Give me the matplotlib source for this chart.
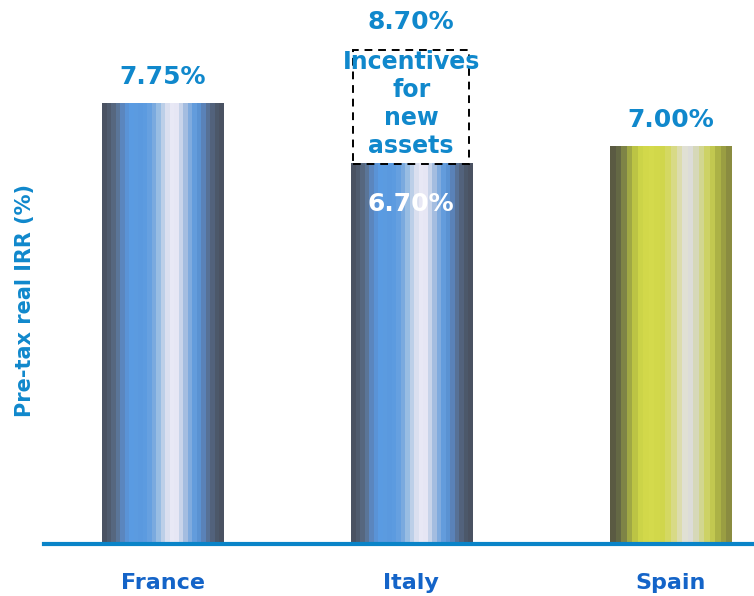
import numpy as np
import matplotlib.pyplot as plt
from matplotlib.colors import to_rgb
from matplotlib.patches import Rectangle

categories = ["France", "Italy", "Spain"]
irr_values = [7.75, 6.70, 7.00]
value_labels = ["7.75%", "6.70%", "7.00%"]
incentive_top = 8.70
incentive_label = "8.70%"
incentive_text = "Incentives\nfor\nnew\nassets"

# Cylinder-style vertical stripes for each bar
blue_stripes = ["#4a5262", "#4f5b6e", "#56677f", "#5a7598", "#5b86be", "#5a93d6",
                "#5a9be2", "#5b9be0", "#5a99df", "#5c9be0", "#66a0e0", "#7aaadf",
                "#98bde3", "#bccfe8", "#dadfef", "#e8e8f5", "#e6e6f4", "#c8d4ea",
                "#a4bde0", "#80abde", "#639cdc", "#5a92d2", "#5a82b8", "#577196",
                "#52627c", "#4c586a", "#4a5262"]
yellow_stripes = ["#5a5a42", "#646844", "#7e8446", "#a0a844", "#bcc444", "#ccd448",
                  "#d2d84a", "#d4da4c", "#d2d84a", "#d0d64c", "#d4d862", "#d8da86",
                  "#dcdcae", "#e0e0d4", "#dcdcd8", "#d6d8b8", "#d2d690", "#cdd266",
                  "#c2c850", "#acb246", "#9a9e42", "#8a8c40"]
bar_stripes = [blue_stripes, blue_stripes, yellow_stripes]

value_color = "#1088cc"
cat_color = "#1464c8"

fig = plt.figure(figsize=(7.54, 5.96), dpi=100)
ax = fig.add_axes([44 / 754, 52 / 596, 710 / 754, 544 / 596])
ax.set_xlim(-0.469, 2.329)
ax.set_ylim(0, 9.58)
for s in ["top", "right", "left"]:
    ax.spines[s].set_visible(False)
ax.spines["bottom"].set_color("#0a84c8")
ax.spines["bottom"].set_linewidth(3)
ax.set_yticks([])
ax.set_xticks([])

# slot positions of the three bars along the x axis
bar_x = [0.0, 0.978, 2.0]
width = 0.477
for x, val, stripes in zip(bar_x, irr_values, bar_stripes):
    img = np.array([[to_rgb(c) for c in stripes]])
    ax.imshow(img, extent=[x - width / 2, x + width / 2, 0, val],
              aspect="auto", interpolation="nearest", zorder=2)

# Value labels
for x, c, val, lab in zip(bar_x, categories, irr_values, value_labels):
    if c == "Italy":
        ax.text(x, val - 0.72, lab, ha="center", va="center",
                color="white", fontsize=18, fontweight="bold", zorder=4)
    else:
        ax.text(x, val + 0.47, lab, ha="center", va="center",
                color=value_color, fontsize=18, fontweight="bold", zorder=4)

# Incentive box on Italy
ii = categories.index("Italy")
xi = bar_x[ii]
base = irr_values[ii]
ax.add_patch(Rectangle((xi - width / 2 + 0.01, base), width - 0.02, incentive_top - base,
                       fill=False, edgecolor="black", linestyle=(0, (4, 3)),
                       linewidth=1.4, zorder=3))
ax.text(xi, incentive_top + 0.5, incentive_label, ha="center", va="center",
        color=value_color, fontsize=18, fontweight="bold")
ax.text(xi, (base + incentive_top) / 2 + 0.05, incentive_text, ha="center", va="center",
        color=value_color, fontsize=17, fontweight="bold", linespacing=1.22)

# Category labels
for x, c in zip(bar_x, categories):
    ax.text(x, -0.68, c, ha="center", va="center", color=cat_color,
            fontsize=16, fontweight="bold", clip_on=False)

fig.text(25 / 754, 1 - 300 / 596, "Pre-tax real IRR (%)", rotation=90,
         ha="center", va="center", color=value_color, fontsize=15, fontweight="bold")

fig.savefig("out.png", dpi=100)
